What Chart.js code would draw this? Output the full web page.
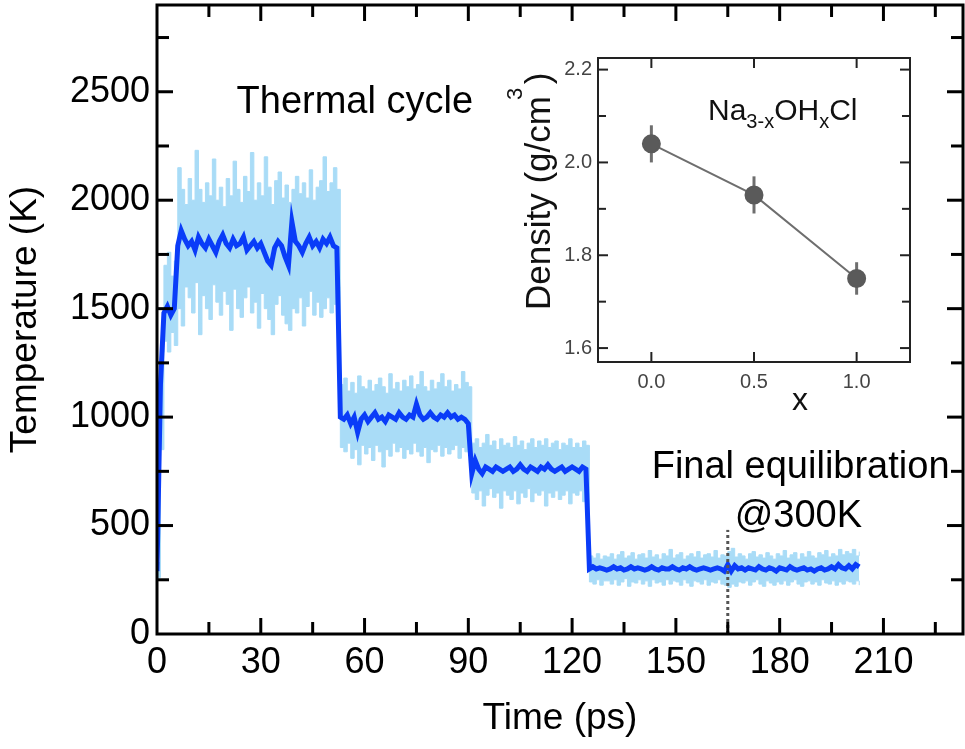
<!DOCTYPE html>
<html lang="en">
<head>
<meta charset="UTF-8">
<title>Thermal cycle</title>
<script src="https://cdn.jsdelivr.net/npm/chart.js@4.4.0/dist/chart.umd.min.js"></script>
<style>
  body { margin: 0; background: #fff; }
  #wrap { position: relative; width: 965px; height: 749px; }
  #main { position: absolute; left: 0; top: 0; }
  #inset { position: absolute; left: 490px; top: 40px; }
</style>
</head>
<body>
<div id="wrap">
  <canvas id="main" width="965" height="749"></canvas>
  <canvas id="inset" width="460" height="400"></canvas>
</div>
<script>
// ---- main panel data: temperature vs time, sampled every DT ps ----
const DT = 1;
// running average (dark blue)
const tempAvg = [
  290, 1150, 1480, 1510, 1470, 1500, 1790, 1860, 1820, 1790,
  1810, 1770, 1830, 1800, 1780, 1820, 1790, 1760, 1810, 1840,
  1800, 1780, 1820, 1790, 1800, 1830, 1770, 1790, 1810, 1780,
  1800, 1760, 1720, 1700, 1780, 1810, 1790, 1740, 1700, 1900,
  1810, 1790, 1760, 1800, 1830, 1790, 1810, 1780, 1820, 1800,
  1830, 1790, 1780, 1000, 990, 1010, 970, 1000, 930, 990,
  1010, 980, 1000, 1020, 990, 1000, 980, 1010, 1000, 990,
  1020, 1000, 990, 1010, 1000, 1060, 1010, 990, 1000, 1020,
  1000, 990, 1010, 1000, 1020, 1000, 1010, 990, 1000, 990,
  970, 740, 800, 760, 740, 770, 760, 750, 770, 760,
  750, 760, 770, 750, 760, 780, 760, 750, 770, 760,
  750, 770, 760, 780, 760, 750, 760, 770, 750, 760,
  770, 760, 750, 770, 760, 300, 310, 300, 305, 300,
  295, 300, 310, 300, 305, 295, 300, 310, 300, 305,
  300, 295, 300, 310, 300, 295, 305, 300, 300, 310,
  300, 295, 305, 300, 310, 300, 295, 300, 305, 300,
  295, 300, 305, 300, 290, 320, 290, 315, 300, 305,
  295, 305, 300, 295, 310, 300, 295, 305, 300, 290,
  305, 300, 295, 310, 300, 295, 300, 305, 295, 300,
  290, 300, 305, 295, 300, 310, 300, 320, 305, 300,
  315, 300, 320, 310
];
// instantaneous fluctuation envelope (light blue), upper edge
const tempHigh = [
  330, 1300, 1700, 1760, 1650, 1720, 2150, 2050, 1980, 2100,
  2000, 2230, 2050, 1990, 2080, 2020, 2190, 2000, 2060, 1970,
  2100, 2020, 2180, 2050, 1990, 2110, 2040, 2220, 2000, 2080,
  2020, 2200, 2060, 1980, 2090, 2130, 2010, 2070, 1990, 2050,
  2110, 2030, 2080, 2010, 2140, 2000, 2060, 2090, 2200, 2040,
  2080, 2150, 2050, 1150, 1180, 1120, 1160, 1110, 1190, 1140,
  1130, 1170, 1120, 1150, 1180, 1140, 1110, 1200, 1130, 1160,
  1120, 1170, 1140, 1190, 1130, 1150, 1210, 1140, 1120, 1170,
  1130, 1160, 1200, 1140, 1170, 1120, 1150, 1130, 1210, 1160,
  1140, 880, 900, 860, 880, 920, 870, 890, 850, 900,
  870, 880, 860, 910, 870, 890, 850, 880, 900, 860,
  890, 870, 900, 860, 880, 890, 850, 880, 870, 900,
  860, 880, 860, 890, 870, 360, 350, 370, 345, 360,
  355, 370, 345, 365, 380, 350, 360, 375, 345, 365,
  370, 350, 385, 355, 365, 345, 370, 360, 390, 350,
  365, 375, 345, 360, 370, 355, 380, 350, 365, 370,
  355, 385, 350, 365, 360, 380, 395, 355, 370, 360,
  345, 370, 380, 355, 365, 350, 375, 360, 345, 370,
  360, 385, 350, 365, 375, 345, 370, 355, 380, 360,
  350, 375, 365, 385, 355, 370, 360, 390, 365, 380,
  370, 390, 360, 380
];
// lower edge
const tempLow = [
  260, 850, 1350, 1300, 1390, 1330, 1500, 1420, 1600, 1550,
  1480, 1620, 1380, 1560, 1500, 1450, 1610, 1530, 1470, 1580,
  1520, 1400, 1590, 1500, 1460, 1550, 1600, 1480, 1530, 1410,
  1570, 1500, 1450, 1380, 1520, 1560, 1470, 1430, 1400, 1500,
  1480, 1550, 1420, 1510, 1580, 1470, 1530, 1460, 1500, 1550,
  1480, 1520, 1600, 860, 840, 880, 810, 850, 780, 870,
  830, 860, 800, 870, 840, 770, 850, 820, 880, 840,
  860, 810, 850, 830, 880, 840, 820, 860, 790, 850,
  840, 870, 820, 860, 830, 850, 870, 810, 860, 840,
  850, 650, 620, 660, 590, 640, 670, 630, 650, 580,
  660, 640, 620, 660, 600, 650, 630, 670, 610, 650,
  640, 660, 590, 650, 630, 660, 620, 640, 660, 600,
  650, 640, 660, 610, 650, 240, 230, 250, 225, 245,
  245, 230, 250, 225, 240, 255, 220, 240, 235, 250,
  230, 245, 220, 250, 235, 240, 225, 250, 230, 245,
  240, 225, 250, 235, 220, 245, 240, 230, 250, 225,
  240, 235, 250, 230, 225, 215, 230, 220, 240, 235,
  245, 225, 240, 250, 230, 220, 245, 235, 225, 240,
  230, 245, 225, 240, 250, 230, 220, 240, 245, 230,
  240, 225, 250, 235, 230, 245, 225, 240, 230, 245,
  240, 230, 245, 225
];
const markerTime = 165;          // start of final equilibration (dotted line)
const markerTop = 480;
const xTicksMain = [0, 30, 60, 90, 120, 150, 180, 210];
const xMinorMain = [15, 45, 75, 105, 135, 165, 195, 225];
const yTicksMain = [0, 500, 1000, 1500, 2000, 2500];
const yMinorMain = [250, 750, 1250, 1750, 2250, 2750];

// ---- inset data: density vs x ----
const insetX = [0.0, 0.5, 1.0];
const insetDensity = [2.04, 1.93, 1.75];
const insetErr = [0.04, 0.04, 0.035];
const xTicksInset = [0.0, 0.5, 1.0];
const yTicksInset = [1.6, 1.8, 2.0, 2.2];
const yMinorInset = [1.7, 1.9, 2.1];

const FONT = "'Liberation Sans', Arial, sans-serif";
Chart.defaults.font.family = FONT;
Chart.defaults.color = '#000';

const toXY = arr => arr.map((v, i) => ({ x: i * DT, y: v }));

// fixed axis boxes, no extra room reserved for end labels
const fixX = h => s => { s.height = h; s.paddingLeft = 0; s.paddingRight = 0; };
const fixY = w => s => { s.width = w; s.paddingTop = 0; s.paddingBottom = 0; };

// frame + inward ticks on all four sides
function frameTicks(chart, o) {
  const { ctx, chartArea: a, scales: { x, y } } = chart;
  ctx.save();
  ctx.strokeStyle = o.color;
  ctx.lineWidth = o.lw;
  ctx.strokeRect(a.left, a.top, a.right - a.left, a.bottom - a.top);
  const seg = (x1, y1, x2, y2) => { ctx.beginPath(); ctx.moveTo(x1, y1); ctx.lineTo(x2, y2); ctx.stroke(); };
  const xs = (vals, len) => vals.forEach(v => {
    const p = x.getPixelForValue(v);
    if (p <= a.left + 1 || p >= a.right - 1) return;
    seg(p, a.bottom, p, a.bottom - len);
    seg(p, a.top, p, a.top + len);
  });
  const ys = (vals, len) => vals.forEach(v => {
    const p = y.getPixelForValue(v);
    if (p >= a.bottom - 1 || p <= a.top + 1) return;
    seg(a.left, p, a.left + len, p);
    seg(a.right, p, a.right - len, p);
  });
  xs(o.xMajor, o.major); xs(o.xMinor, o.minor);
  ys(o.yMajor, o.major); ys(o.yMinor, o.minor);
  ctx.restore();
}

new Chart(document.getElementById('main'), {
  type: 'line',
  data: {
    datasets: [
      { data: [{ x: markerTime, y: 0 }, { x: markerTime, y: markerTop }], borderColor: '#555',
        borderWidth: 3, borderDash: [3, 3], pointRadius: 0, fill: false, order: 0 },
      { data: toXY(tempAvg), borderColor: '#0a3cf8', borderWidth: 5, pointRadius: 0,
        tension: 0, fill: false, order: 1 },
      { data: toXY(tempLow), borderColor: '#a9dcf7', borderWidth: 1, pointRadius: 0,
        stepped: true, fill: '+1', backgroundColor: '#a9dcf7', order: 2 },
      { data: toXY(tempHigh), borderColor: '#a9dcf7', borderWidth: 1, pointRadius: 0,
        stepped: true, fill: false, order: 3 }
    ]
  },
  options: {
    responsive: false,
    animation: false,
    layout: { padding: { top: 5, right: 2, left: 0, bottom: 0 } },
    plugins: { legend: { display: false }, tooltip: { enabled: false } },
    scales: {
      x: {
        type: 'linear', min: 0, max: 233,
        grid: { display: false, drawTicks: false }, border: { display: false },
        afterBuildTicks: s => { s.ticks = xTicksMain.map(v => ({ value: v })); },
        afterFit: fixX(115),
        ticks: { font: { size: 36 }, padding: 7, maxRotation: 0, autoSkip: false, callback: v => String(v) },
        title: { display: true, text: 'Time (ps)', font: { size: 37 }, padding: { top: 4, bottom: 8 } }
      },
      y: {
        type: 'linear', min: 0, max: 2900,
        grid: { display: false, drawTicks: false }, border: { display: false },
        afterBuildTicks: s => { s.ticks = yTicksMain.map(v => ({ value: v })); },
        afterFit: fixY(157),
        ticks: { font: { size: 36 }, padding: 7, autoSkip: false, callback: v => String(v) },
        title: { display: true, text: 'Temperature (K)', font: { size: 37 }, padding: 4 }
      }
    }
  },
  plugins: [{
    id: 'deco',
    afterDraw(chart) {
      frameTicks(chart, { color: '#000', lw: 3, major: 16, minor: 12,
        xMajor: xTicksMain, xMinor: xMinorMain, yMajor: yTicksMain, yMinor: yMinorMain });
      const { ctx, scales: { x, y } } = chart;
      ctx.save();
      ctx.fillStyle = '#000';
      ctx.font = '38px ' + FONT;
      ctx.textBaseline = 'alphabetic';
      ctx.fillText('Thermal cycle', x.getPixelForValue(23), y.getPixelForValue(2400));
      ctx.fillText('Final equilibration', x.getPixelForValue(143), y.getPixelForValue(718));
      ctx.fillText('@300K', x.getPixelForValue(167), y.getPixelForValue(493));
      ctx.restore();
    }
  }]
});

new Chart(document.getElementById('inset'), {
  type: 'line',
  data: {
    datasets: [{
      data: insetX.map((v, i) => ({ x: v, y: insetDensity[i] })),
      borderColor: '#6e6e6e', borderWidth: 2,
      pointRadius: 8.5, pointBackgroundColor: '#5a5a5a', pointBorderColor: '#5a5a5a',
      fill: false, tension: 0
    }]
  },
  options: {
    responsive: false,
    animation: false,
    layout: { padding: { top: 18, right: 40, left: 0, bottom: 0 } },
    plugins: { legend: { display: false }, tooltip: { enabled: false } },
    scales: {
      x: {
        type: 'linear', min: -0.26, max: 1.26,
        grid: { display: false, drawTicks: false }, border: { display: false },
        afterBuildTicks: s => { s.ticks = xTicksInset.map(v => ({ value: v })); },
        afterFit: fixX(78),
        ticks: { font: { size: 20 }, color: '#444', padding: 8, callback: v => v.toFixed(1) }
      },
      y: {
        type: 'linear', min: 1.57, max: 2.225,
        grid: { display: false, drawTicks: false }, border: { display: false },
        afterBuildTicks: s => { s.ticks = yTicksInset.map(v => ({ value: v })); },
        afterFit: fixY(108),
        ticks: { font: { size: 20 }, color: '#444', padding: 6, callback: v => v.toFixed(1) }
      }
    }
  },
  plugins: [{
    id: 'insetDeco',
    beforeDatasetsDraw(chart) {
      const { ctx, scales: { x, y } } = chart;
      ctx.save();
      ctx.strokeStyle = '#6e6e6e';
      ctx.lineWidth = 3;
      insetX.forEach((v, i) => {
        const px = x.getPixelForValue(v);
        ctx.beginPath();
        ctx.moveTo(px, y.getPixelForValue(insetDensity[i] + insetErr[i]));
        ctx.lineTo(px, y.getPixelForValue(insetDensity[i] - insetErr[i]));
        ctx.stroke();
      });
      ctx.restore();
    },
    afterDraw(chart) {
      frameTicks(chart, { color: '#222', lw: 2, major: 10, minor: 8,
        xMajor: xTicksInset, xMinor: [], yMajor: yTicksInset, yMinor: yMinorInset });
      const { ctx } = chart;
      ctx.save();
      ctx.fillStyle = '#111';
      // compound label with subscripts
      let cx = 218;
      [['Na', 0], ['3-x', 1], ['OH', 0], ['x', 1], ['Cl', 0]].forEach(([s, sub]) => {
        ctx.font = (sub ? '20px ' : '30px ') + FONT;
        ctx.fillText(s, cx, sub ? 88 : 80);
        cx += ctx.measureText(s).width;
      });
      // x axis title
      ctx.font = '32px ' + FONT;
      ctx.textAlign = 'center';
      ctx.fillText('x', 310, 370);
      // y axis title, rotated
      ctx.textAlign = 'left';
      ctx.translate(60, 270);
      ctx.rotate(-Math.PI / 2);
      ctx.font = '35px ' + FONT;
      ctx.fillText('Density (g/cm', 0, 0);
      const w = ctx.measureText('Density (g/cm').width;
      ctx.fillText(' )', w + 2, 0);
      ctx.font = '22px ' + FONT;
      ctx.fillText('3', w - 4, -28);
      ctx.restore();
    }
  }]
});
</script>
</body>
</html>
